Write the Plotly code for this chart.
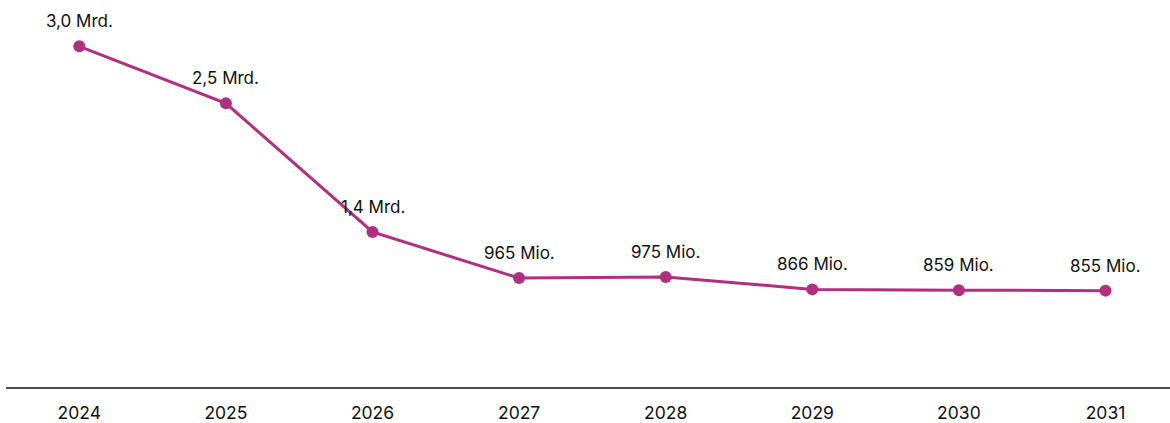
import plotly.graph_objects as go

years = [2024, 2025, 2026, 2027, 2028, 2029, 2030, 2031]
values = [3.0, 2.5, 1.37, 0.965, 0.975, 0.866, 0.859, 0.855]  # in Mrd.
labels = ["3,0 Mrd.", "2,5 Mrd.", "1,4 Mrd.", "965 Mio.", "975 Mio.", "866 Mio.", "859 Mio.", "855 Mio."]
tick_labels = [str(y) for y in years]

color = "#B02F7E"
font = "Inter, 'Open Sans', sans-serif"

fig = go.Figure()
fig.add_trace(go.Scatter(
    x=years, y=values, mode="lines+markers",
    line=dict(color=color, width=3),
    marker=dict(color=color, size=12),
    hoverinfo="skip",
))
for x, y, t in zip(years, values, labels):
    fig.add_annotation(x=x, y=y, text=t, showarrow=False, yshift=25,
                       font=dict(family=font, size=17, color="#111111"))

fig.update_layout(
    width=1170, height=423,
    margin=dict(l=6, r=0, t=0, b=35),
    paper_bgcolor="white", plot_bgcolor="white",
    showlegend=False,
    xaxis=dict(range=[2023.5, 2031.44], tickmode="array", tickvals=years, ticktext=tick_labels,
               showgrid=False, zeroline=False, showline=False, automargin=False,
               ticks="outside", ticklen=9, tickcolor="rgba(0,0,0,0)",
               tickfont=dict(family=font, size=17.5, color="#111111")),
    yaxis=dict(range=[0, 3.407], visible=False, showgrid=False, zeroline=False, automargin=False),
    shapes=[dict(type="line", xref="paper", yref="paper", x0=0, x1=1, y0=0, y1=0,
                 line=dict(color="#111111", width=1.5))],
)
fig.write_html("out.html", config={"displayModeBar": False},
               post_script="document.body.style.margin='0';")
